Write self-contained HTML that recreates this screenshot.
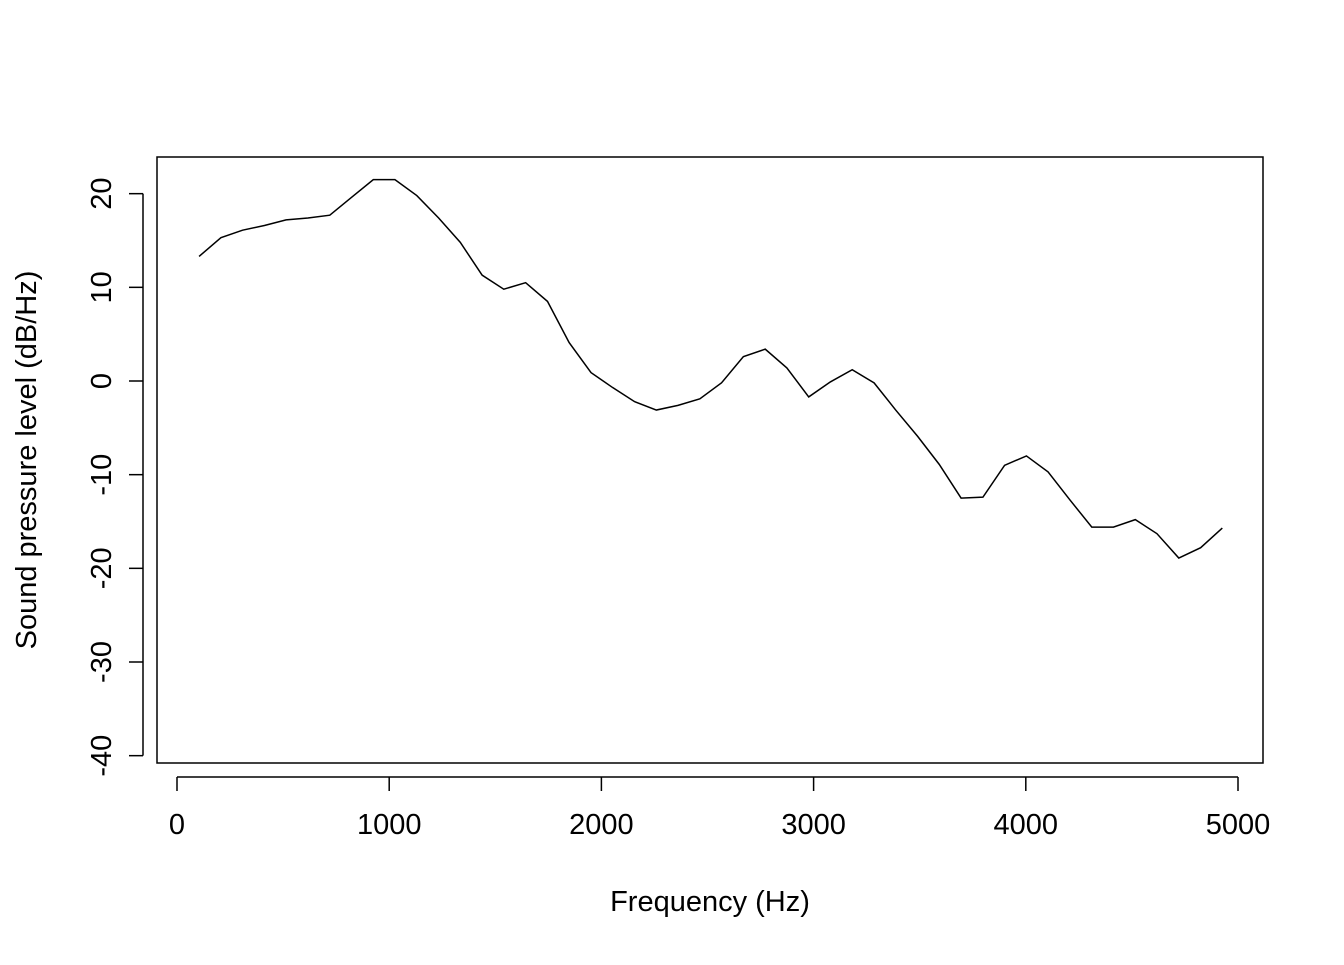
<!DOCTYPE html>
<html><head><meta charset="utf-8"><style>
body{margin:0;background:#fff}
svg text{font-family:"Liberation Sans",Arial,sans-serif;fill:#000}
</style></head><body>
<svg id="chart" width="1344" height="960">
<rect x="157" y="157" width="1106" height="606" fill="none" stroke="#000" stroke-width="1.5"/>
<g id="axes"></g>
<path id="line" fill="none" stroke="#000" stroke-width="1.5"/>
<text x="710" y="911" font-size="29" text-anchor="middle">Frequency (Hz)</text>
<text transform="translate(36,460) rotate(-90)" font-size="29" text-anchor="middle">Sound pressure level (dB/Hz)</text>
</svg>
<script>
const freqs=[104,207,309,412,514,617,720,822,925,1027,1130,1233,1335,1438,1540,1643,1746,1848,1951,2053,2156,2259,2361,2464,2566,2669,2772,2874,2977,3079,3182,3285,3387,3490,3592,3695,3798,3900,4003,4105,4208,4311,4413,4516,4618,4721,4824,4926];
const levels=[13.3,15.3,16.1,16.6,17.2,17.4,17.7,19.6,21.5,21.5,19.8,17.4,14.8,11.3,9.8,10.5,8.5,4.1,0.9,-0.7,-2.2,-3.1,-2.6,-1.9,-0.2,2.6,3.4,1.4,-1.7,-0.1,1.2,-0.2,-3.1,-5.9,-8.9,-12.5,-12.4,-9.0,-8.0,-9.7,-12.7,-15.6,-15.6,-14.8,-16.3,-18.9,-17.8,-15.7,-14.3];
const xTicks=[0,1000,2000,3000,4000,5000];
const yTicks=[-40,-30,-20,-10,0,10,20];
function xs(v){return 177+v*(1238-177)/5000;}
function ys(v){return 381-v*(756-194)/60*1;}
const ns="http://www.w3.org/2000/svg";
const ax=document.getElementById('axes');
function mk(t,a){const e=document.createElementNS(ns,t);for(const k in a)e.setAttribute(k,a[k]);ax.appendChild(e);return e;}
let e=mk('line',{x1:xs(0),x2:xs(5000),y1:777,y2:777,stroke:'#000','stroke-width':1.5});


e=mk('line',{x1:143,x2:143,y1:ys(20),y2:ys(-40),stroke:'#000','stroke-width':1.5});


xTicks.forEach(v=>{
 let t=mk('line',{x1:xs(v),x2:xs(v),y1:777,y2:791,stroke:'#000','stroke-width':1.5});
 
 
 let l=mk('text',{x:xs(v),y:834,'font-size':29,'text-anchor':'middle'});
 l.textContent=v;
 
 
});
yTicks.forEach(v=>{
 let t=mk('line',{x1:129,x2:143,y1:ys(v),y2:ys(v),stroke:'#000','stroke-width':1.5});
 
 
 let l=mk('text',{transform:`translate(111,${ys(v)}) rotate(-90)`,'font-size':29,'text-anchor':'middle'});
 l.textContent=v;
 
 
});
document.getElementById('line').setAttribute('d',freqs.map((f,i)=>(i?'L':'M')+xs(f)+','+ys(levels[i])).join(''));
</script>
</body></html>
